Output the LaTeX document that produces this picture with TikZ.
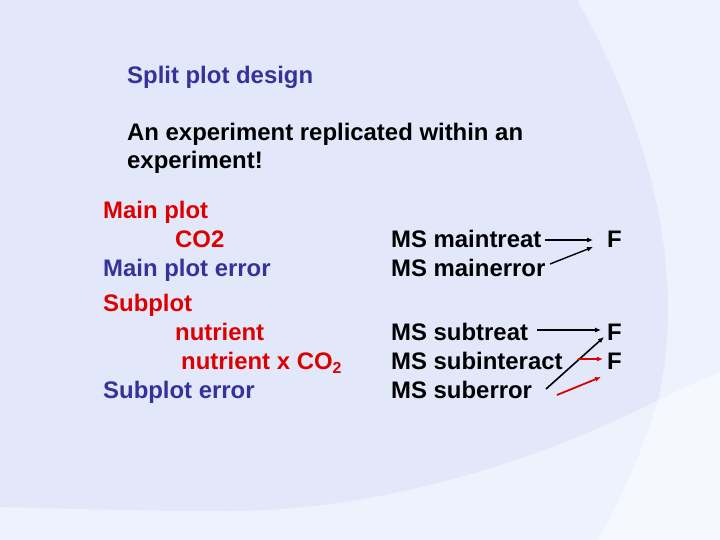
\documentclass[tikz,border=0pt]{standalone}
\usepackage{fontspec}
\setmainfont{Liberation Sans}
\usetikzlibrary{arrows.meta}
\definecolor{bgbase}{HTML}{EEF2FD}
\definecolor{bgblob}{HTML}{E2E8FA}
\definecolor{bglight}{HTML}{F5F8FF}
\definecolor{tblue}{HTML}{333399}
\definecolor{tred}{HTML}{DD0000}
\begin{document}
\begin{tikzpicture}[x=1bp,y=-1bp,
  txt/.style={anchor=base west, inner sep=0pt, font=\fontsize{24}{28}\selectfont\bfseries},
  bl/.style={txt,text=tblue},
  rd/.style={txt,text=tred},
  bk/.style={txt,text=black},
  arr/.style={-{Latex[length=6pt,width=5pt]}, line width=1.4pt, draw=black},
  thinarr/.style={arr, line width=1.1pt},
  rarr/.style={arr, line width=1.8pt, draw=tred},
]
\useasboundingbox (0,0) rectangle (720,540);
% background
\fill[bgbase] (0,0) rectangle (720,540);
\fill[bgblob] (0,0) -- (577,0) .. controls (640,110) and (690,260) .. (658,400)
  .. controls (560,450) and (400,510) .. (230,511)
  .. controls (130,511) and (50,508) .. (0,507) -- cycle;
\fill[bglight] (658,400) .. controls (640,460) and (615,510) .. (598,540)
  -- (720,540) -- (720,372) .. controls (700,380) and (680,390) .. (658,400) -- cycle;

% texts
\node[bl] (title) at (127,84) {Split plot design};
\node[bk] (q1) at (127,141) {An experiment replicated within an};
\node[bk] (q2) at (127,169) {experiment!};
\node[rd] (mp) at (103,219) {Main plot};
\node[rd] (co) at (175,248) {CO2};
\node[bl] (mpe) at (103,277) {Main plot error};
\node[rd] (sp) at (103,311) {Subplot};
\node[rd] (nu) at (175,340) {nutrient};
\node[rd] (nx) at (181,369) {nutrient x CO\raisebox{-5pt}{\fontsize{16}{16}\selectfont 2}};
\node[bl] (spe) at (103,398) {Subplot error};

\node[bk] (mst) at (391,248) {MS maintreat};
\node[bk] (mse) at (391,277) {MS mainerror};
\node[bk] (sst) at (391,340) {MS subtreat};
\node[bk] (ssi) at (391,369) {MS subinteract};
\node[bk] (sse) at (391,398) {MS suberror};

\node[bk] (F1) at (607,248) {F};
\node[bk] (F2) at (607,340) {F};
\node[bk] (F3) at (607,369) {F};

% arrow end points
\coordinate (a1s) at (545,240);
\coordinate (a1e) at (593,240);
\coordinate (a2s) at (550,264);
\coordinate (a2e) at (593,247);
\coordinate (a3s) at (537,330);
\coordinate (a3e) at (601,330);
\coordinate (a4s) at (546,389);
\coordinate (a4e) at (604,337);
\coordinate (a5s) at (578,359);
\coordinate (a5e) at (603,359);
\coordinate (a6s) at (557,395);
\coordinate (a6e) at (601,377);

\draw[arr] (a1s) -- (a1e);
\draw[arr] (a2s) -- (a2e);
\draw[thinarr] (a3s) -- (a3e);
\draw[arr, line width=1.6pt] (a4s) -- (a4e);
\draw[rarr] (a5s) -- (a5e);
\draw[rarr] (a6s) -- (a6e);
\end{tikzpicture}
\end{document}
